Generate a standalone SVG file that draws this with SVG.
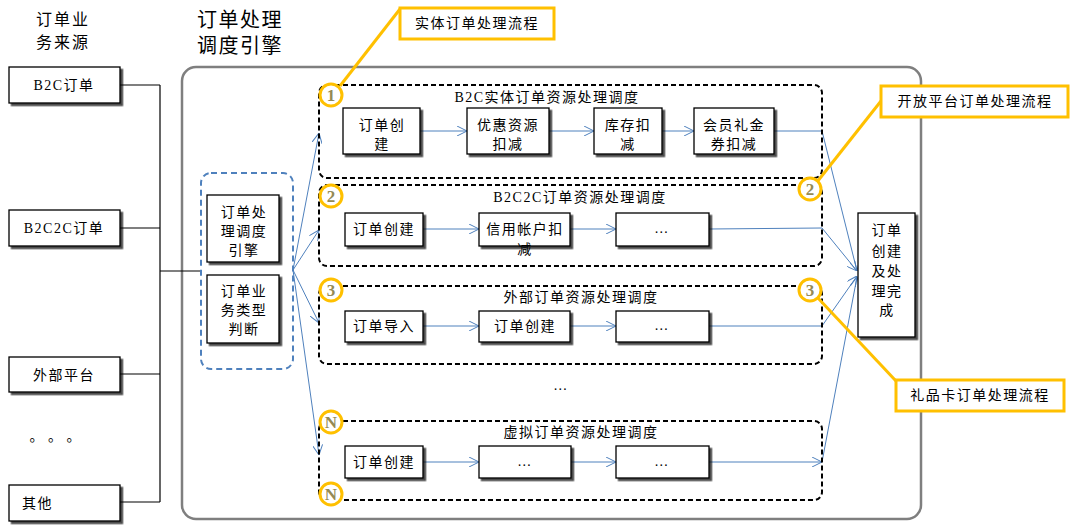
<svg xmlns="http://www.w3.org/2000/svg" width="1076" height="528" viewBox="0 0 1076 528">
<style>
text{font-family:"Liberation Serif","Noto Sans CJK SC",serif;fill:#000;}
.t14{font-size:14px;letter-spacing:1.5px;text-anchor:middle;}
.box{fill:#fff;stroke:#000;stroke-width:1.3;filter:url(#ds);}
.grp{fill:none;stroke:#000;stroke-width:2;stroke-dasharray:5 3;}
.blk{fill:none;stroke:#000;stroke-width:1.2;}
.blu{fill:none;stroke:#4F81BD;stroke-width:1;marker-end:url(#ah);}
.bln{fill:none;stroke:#4F81BD;stroke-width:1;}
.co{fill:#fff;stroke:#FFC000;stroke-width:3;}
.col{fill:none;stroke:#FFC000;stroke-width:3;}
.num{font-size:17px;font-weight:bold;fill:#948A54;text-anchor:middle;}
</style>
<defs>
<filter id="ds" x="-10%" y="-10%" width="130%" height="130%">
<feDropShadow dx="2.5" dy="2.5" stdDeviation="0.6" flood-color="#000" flood-opacity="0.7"/>
</filter>
<marker id="ah" viewBox="0 0 10 10" refX="10" refY="5" markerWidth="10" markerHeight="10" markerUnits="userSpaceOnUse" orient="auto">
<path d="M0,0 L10,5 L0,10" fill="none" stroke="#4F81BD" stroke-width="1"/>
</marker>
</defs>
<rect width="1076" height="528" fill="#fff"/>

<g id="headers">
<text x="63" y="25" style="font-size:16px;letter-spacing:2px;text-anchor:middle">订单业</text>
<text x="63" y="48" style="font-size:16px;letter-spacing:2px;text-anchor:middle">务来源</text>
<text x="197" y="27" style="font-size:20px;letter-spacing:1.5px">订单处理</text>
<text x="197" y="53" style="font-size:20px;letter-spacing:1.5px">调度引擎</text>
</g>

<g id="outer">
<rect x="182" y="67" width="739" height="452" rx="14" fill="#fff" stroke="#7f7f7f" stroke-width="2.5"/>
</g>

<g id="connectors">
<path class="blk" d="M120,85H160M120,228H160M120,374H160M120,502H160M160,85V502M160,271H201"/>
<path class="blu" d="M293,270L319,133"/>
<path class="blu" d="M293,270L319,230"/>
<path class="blu" d="M293,270L319,323"/>
<path class="blu" d="M293,270L319,455"/>
<path class="blu" d="M420,131H467"/>
<path class="blu" d="M549,131H594"/>
<path class="blu" d="M662,131H694"/>
<path class="blu" d="M774,131H822L857,271"/>
<path class="blu" d="M423,229H479"/>
<path class="blu" d="M570,229H616"/>
<path class="blu" d="M709,229L822,228L857,271"/>
<path class="blu" d="M423,326H479"/>
<path class="blu" d="M570,326H616"/>
<path class="blu" d="M709,326H822L857,276"/>
<path class="blu" d="M423,462H479"/>
<path class="blu" d="M571,462H616"/>
<path class="blu" d="M709,462H822"/>
<path class="blu" d="M822,462L857,277"/>
</g>

<g id="src-b2c"><rect class="box" x="9" y="67" width="111" height="36"/><text class="t14" x="64" y="90">B2C订单</text></g>
<g id="src-b2c2c"><rect class="box" x="9" y="210" width="111" height="36"/><text class="t14" x="64" y="233">B2C2C订单</text></g>
<g id="src-ext"><rect class="box" x="9" y="357" width="111" height="35"/><text class="t14" x="64" y="380">外部平台</text></g>
<g id="src-more"><text x="29.5 48 66.5" y="441" style="font-size:14px">。。。</text></g>
<g id="src-other"><rect class="box" x="9" y="485" width="111" height="36"/><text x="22" y="508" style="font-size:14px;letter-spacing:1.5px">其他</text></g>

<g id="engine">
<rect x="201" y="173" width="92" height="196" rx="10" fill="none" stroke="#4F81BD" stroke-width="2" stroke-dasharray="6 4"/>
<g id="engine-core"><rect class="box" x="207" y="195" width="72" height="67"/>
<text class="t14" x="244" y="217">订单处</text><text class="t14" x="244" y="236">理调度</text><text class="t14" x="244" y="255">引擎</text></g>
<g id="engine-type"><rect class="box" x="207" y="275" width="72" height="68"/>
<text class="t14" x="244" y="296">订单业</text><text class="t14" x="244" y="315">务类型</text><text class="t14" x="244" y="334">判断</text></g>
</g>

<g id="group1">
<rect class="grp" x="319" y="85" width="503" height="93" rx="8"/>
<text class="t14" x="547" y="102">B2C实体订单资源处理调度</text>
<g id="g1-create"><rect class="box" x="343" y="108" width="77" height="46"/><text class="t14" x="382" y="130">订单创</text><text class="t14" x="382" y="149">建</text></g>
<g id="g1-coupon"><rect class="box" x="467" y="108" width="82" height="46"/><text class="t14" x="508" y="130">优惠资源</text><text class="t14" x="508" y="149">扣减</text></g>
<g id="g1-stock"><rect class="box" x="594" y="108" width="68" height="46"/><text class="t14" x="628" y="130">库存扣</text><text class="t14" x="628" y="149">减</text></g>
<g id="g1-member"><rect class="box" x="694" y="108" width="80" height="46"/><text class="t14" x="734" y="130">会员礼金</text><text class="t14" x="734" y="149">券扣减</text></g>
</g>

<g id="group2">
<rect class="grp" x="319" y="185" width="503" height="81" rx="8"/>
<text class="t14" x="580" y="202">B2C2C订单资源处理调度</text>
<g id="g2-create"><rect class="box" x="345" y="213" width="78" height="33"/><text class="t14" x="384" y="234">订单创建</text></g>
<g id="g2-credit"><rect class="box" x="479" y="213" width="91" height="33"/><text class="t14" x="525" y="234">信用帐户扣</text><text class="t14" x="525" y="254">减</text></g>
<g id="g2-more"><rect class="box" x="616" y="213" width="93" height="33"/><text class="t14" x="662" y="233">…</text></g>
</g>

<g id="group3">
<rect class="grp" x="319" y="286" width="503" height="78" rx="8"/>
<text class="t14" x="581" y="302">外部订单资源处理调度</text>
<g id="g3-import"><rect class="box" x="345" y="311" width="78" height="31"/><text class="t14" x="384" y="331">订单导入</text></g>
<g id="g3-create"><rect class="box" x="479" y="311" width="91" height="31"/><text class="t14" x="525" y="331">订单创建</text></g>
<g id="g3-more"><rect class="box" x="616" y="311" width="93" height="31"/><text class="t14" x="662" y="330">…</text></g>
</g>

<g id="ellipsis"><text class="t14" x="561" y="390">…</text></g>

<g id="groupN">
<rect class="grp" x="319" y="421" width="503" height="79" rx="8"/>
<text class="t14" x="581" y="437">虚拟订单资源处理调度</text>
<g id="gN-create"><rect class="box" x="345" y="446" width="78" height="32"/><text class="t14" x="384" y="467">订单创建</text></g>
<g id="gN-more1"><rect class="box" x="479" y="446" width="92" height="32"/><text class="t14" x="525" y="466">…</text></g>
<g id="gN-more2"><rect class="box" x="616" y="446" width="93" height="32"/><text class="t14" x="662" y="466">…</text></g>
</g>

<g id="done">
<rect class="box" x="858" y="213" width="57" height="124"/>
<text class="t14" x="887" y="235">订单</text><text class="t14" x="887" y="256">创建</text><text class="t14" x="887" y="276">及处</text><text class="t14" x="887" y="296">理完</text><text class="t14" x="887" y="315">成</text>
</g>

<g id="callout1">
<path class="col" d="M400,9L340,86"/>
<rect class="co" x="400" y="8" width="154" height="31"/>
<text class="t14" x="477" y="28">实体订单处理流程</text>
</g>
<g id="callout2">
<path class="col" d="M881,101L817,182"/>
<rect class="co" x="881" y="86" width="187" height="31"/>
<text class="t14" x="975" y="106">开放平台订单处理流程</text>
</g>
<g id="callout3">
<path class="col" d="M896,381L817,297"/>
<rect class="co" x="896" y="380" width="168" height="31"/>
<text class="t14" x="980" y="400">礼品卡订单处理流程</text>
</g>

<g id="badges">
<g id="b1"><circle class="co" cx="331" cy="95" r="11"/><text class="num" x="331" y="101">1</text></g>
<g id="b2l"><circle class="co" cx="331" cy="196" r="11"/><text class="num" x="331" y="202">2</text></g>
<g id="b2r"><circle class="co" cx="810" cy="189" r="11"/><text class="num" x="810" y="195">2</text></g>
<g id="b3l"><circle class="co" cx="331" cy="290" r="11"/><text class="num" x="331" y="296">3</text></g>
<g id="b3r"><circle class="co" cx="810" cy="290" r="11"/><text class="num" x="810" y="296">3</text></g>
<g id="bNt"><circle class="co" cx="331" cy="422" r="11"/><text class="num" x="331" y="428">N</text></g>
<g id="bNb"><circle class="co" cx="331" cy="494" r="11"/><text class="num" x="331" y="500">N</text></g>
</g>
</svg>
